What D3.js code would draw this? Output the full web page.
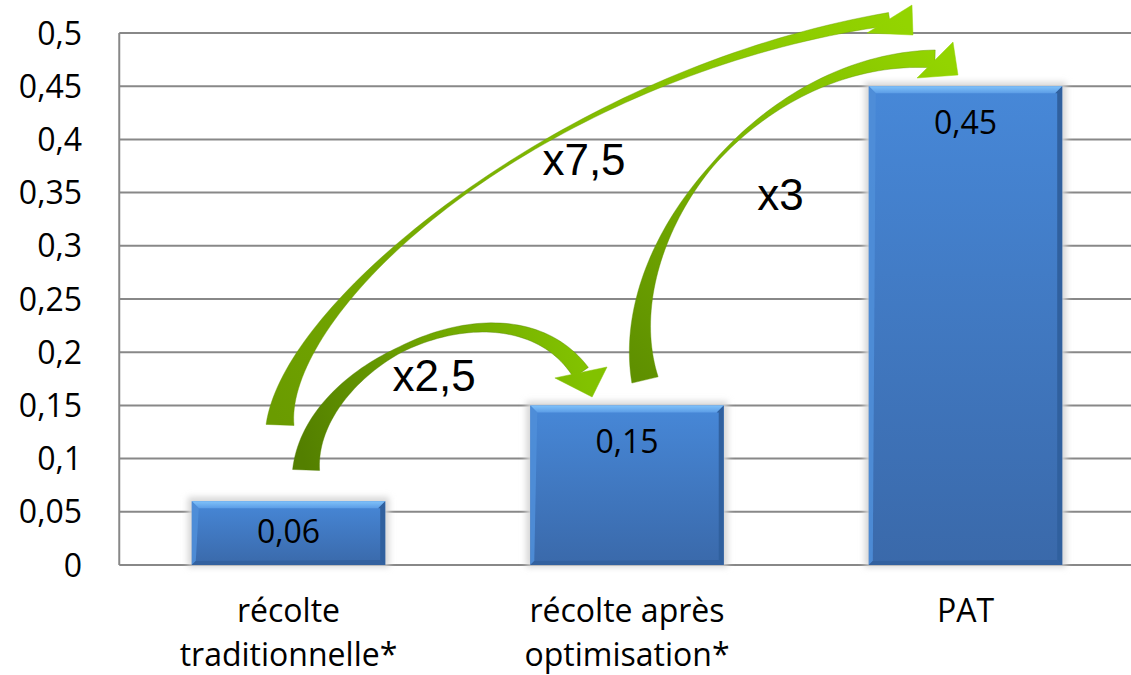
<!DOCTYPE html>
<html>
<head>
<meta charset="utf-8">
<script src="https://cdn.jsdelivr.net/npm/d3@7"></script>
<style>
  html, body { margin: 0; padding: 0; background: #ffffff; overflow: hidden; }
  svg { display: block; }
</style>
</head>
<body>
<svg id="chart" width="1131" height="675"></svg>
<script>
// Category labels (one entry per line of the label)
const categories = [
  ["récolte", "traditionnelle*"],
  ["récolte après", "optimisation*"],
  ["PAT"]
];
// Bar values and their printed labels
const values = [0.06, 0.15, 0.45];
const valueLabels = ["0,06", "0,15", "0,45"];

// Y axis ticks
const yTicks = [0, 0.05, 0.1, 0.15, 0.2, 0.25, 0.3, 0.35, 0.4, 0.45, 0.5];
const yTickLabels = ["0", "0,05", "0,1", "0,15", "0,2", "0,25", "0,3", "0,35", "0,4", "0,45", "0,5"];

// Ratio annotations between bars
const ratioLabels = ["x2,5", "x7,5", "x3"];

// Curved arrows, every point given as [category index, value]
// tail / c1 / c2 / end : cubic centreline of the ribbon; head : [barb, tip, barb]
// widths : [tail width, narrowest width, where it is narrowest, width at head, taper exponent]
const ratioArrows = [
  { label: 1, text: [0.873, 0.3665],
    tail: [-0.025, 0.1316], c1: [-0.010, 0.2491], c2: [0.802, 0.4652], end: [1.7755, 0.5132],
    head: [[1.8419, 0.5263], [1.8449, 0.4981], [1.709, 0.5000]],
    widths: [28, 3, 0.55, 13, 2.0], colors: ["#6a9b00", "#7fb800", "#93d400"] },
  { label: 0, text: [0.430, 0.1635],
    tail: [0.052, 0.0893], c1: [0.0635, 0.1927], c2: [0.654, 0.2773], end: [0.864, 0.1809],
    head: [[0.941, 0.1861], [0.897, 0.1579], [0.787, 0.1758]],
    widths: [27, 6, 0.45, 18, 1.2], colors: ["#537f00", "#6ea400", "#82c200"] },
  { label: 2, text: [1.4535, 0.3336],
    tail: [1.0532, 0.1739], c1: [0.9557, 0.3055], c2: [1.3929, 0.4793], end: [1.9099, 0.4756],
    head: [[1.9631, 0.4915], [1.9778, 0.4605], [1.8567, 0.4577]],
    widths: [27, 3, 0.5, 18, 1.3], colors: ["#5f9000", "#7ab400", "#93d400"] }
];

const plot = { left: 119.25, right: 1134.75, top: 33, bottom: 565 };

const svg = d3.select("#chart");
const defs = svg.append("defs");

const x = d3.scaleBand()
  .domain(d3.range(categories.length))
  .range([plot.left, plot.right])
  .paddingInner(0).paddingOuter(0);
const y = d3.scaleLinear().domain([0, 0.5]).range([plot.bottom, plot.top]);
// Continuous position along the category axis (band centres at integer indexes)
const cx = d3.scaleLinear()
  .domain([0, categories.length - 1])
  .range([x(0) + x.bandwidth() / 2, x(categories.length - 1) + x.bandwidth() / 2]);
const barW = x.bandwidth() / 1.75;

const FONT = "'Open Sans', 'Noto Sans', sans-serif";
const GRID = "#888888";

// Gridlines
svg.append("g").selectAll("line")
  .data(yTicks.filter(d => d > 0))
  .join("line")
  .attr("x1", plot.left).attr("x2", plot.right)
  .attr("y1", d => y(d)).attr("y2", d => y(d))
  .attr("stroke", GRID).attr("stroke-width", 2);

// Axis lines
svg.append("line")
  .attr("x1", plot.left).attr("x2", plot.left)
  .attr("y1", y(0.5)).attr("y2", y(0))
  .attr("stroke", GRID).attr("stroke-width", 2);
svg.append("line")
  .attr("x1", plot.left).attr("x2", plot.right)
  .attr("y1", y(0)).attr("y2", y(0))
  .attr("stroke", GRID).attr("stroke-width", 2);

// Y tick labels
svg.append("g").selectAll("text")
  .data(yTicks)
  .join("text")
  .attr("x", 82)
  .attr("y", d => y(d) + 11.5)
  .attr("text-anchor", "end")
  .attr("font-family", FONT).attr("font-size", 32)
  .attr("fill", "#000")
  .text((d, i) => yTickLabels[i]);

// Bar gradients and shadow filter
const bodyGrad = defs.append("linearGradient").attr("id", "barBody")
  .attr("x1", 0).attr("y1", 0).attr("x2", 0).attr("y2", 1);
bodyGrad.append("stop").attr("offset", "0%").attr("stop-color", "#4788d8");
bodyGrad.append("stop").attr("offset", "100%").attr("stop-color", "#3a69aa");

const topGrad = defs.append("linearGradient").attr("id", "barTop")
  .attr("x1", 0).attr("y1", 0).attr("x2", 0).attr("y2", 1);
topGrad.append("stop").attr("offset", "0%").attr("stop-color", "#80c2fa");
topGrad.append("stop").attr("offset", "100%").attr("stop-color", "#5c9de6");

const shadow = defs.append("filter").attr("id", "barShadow")
  .attr("x", "-20%").attr("y", "-20%").attr("width", "140%").attr("height", "140%");
shadow.append("feGaussianBlur").attr("stdDeviation", 3);

const bars = svg.append("g").selectAll("g")
  .data(values)
  .join("g");

const B = 7; // bevel size
bars.each(function (v, i) {
  const g = d3.select(this);
  const x0 = x(i) + (x.bandwidth() - barW) / 2;
  const x1 = x0 + barW;
  const y0 = y(v), y1 = y(0);
  g.append("rect")
    .attr("x", x0 - 4).attr("y", y0 - 4)
    .attr("width", barW + 8).attr("height", y1 - y0 + 6)
    .attr("fill", "#d6d6d6").attr("filter", "url(#barShadow)");
  g.append("rect")
    .attr("x", x0).attr("y", y0)
    .attr("width", barW).attr("height", y1 - y0)
    .attr("fill", "url(#barBody)");
  // bevels
  g.append("path")
    .attr("d", `M${x0},${y0}L${x1},${y0}L${x1 - B},${y0 + B}L${x0 + B},${y0 + B}Z`)
    .attr("fill", "url(#barTop)");
  g.append("path")
    .attr("d", `M${x1},${y0}L${x1},${y1}L${x1 - 5},${y1 - 5}L${x1 - 5},${y0 + B}L${x1 - B},${y0 + B}Z`)
    .attr("fill", "#30609e");
  g.append("path")
    .attr("d", `M${x0},${y0}L${x0 + B},${y0 + B}L${x0 + 4},${y1 - 4}L${x0},${y1}Z`)
    .attr("fill", "#4f8ed8").attr("opacity", 0.9);
  g.append("path")
    .attr("d", `M${x0},${y1}L${x0 + 4},${y1 - 4}L${x1 - 5},${y1 - 5}L${x1},${y1}Z`)
    .attr("fill", "#33619f");
  // value label inside the top of the bar
  const h = y1 - y0;
  const c = y0 + Math.min(36, h / 2 - 2);
  g.append("text")
    .attr("x", (x0 + x1) / 2).attr("y", c + 11.5)
    .attr("text-anchor", "middle")
    .attr("font-family", FONT).attr("font-size", 32)
    .attr("fill", "#000")
    .text(valueLabels[i]);
});

// Category labels
const catG = svg.append("g").selectAll("text")
  .data(categories)
  .join("text")
  .attr("text-anchor", "middle")
  .attr("font-family", FONT).attr("font-size", 32)
  .attr("fill", "#000");
catG.selectAll("tspan")
  .data((d, i) => d.map(s => ({ s, i })))
  .join("tspan")
  .attr("x", d => x(d.i) + x.bandwidth() / 2)
  .attr("y", (d, j) => 622 + j * 44)
  .text(d => d.s);

// Curved ratio arrows
function pt(p) { return [cx(p[0]), y(p[1])]; }
function bez(a, b, c, d, t) {
  const u = 1 - t;
  return [
    u * u * u * a[0] + 3 * u * u * t * b[0] + 3 * u * t * t * c[0] + t * t * t * d[0],
    u * u * u * a[1] + 3 * u * u * t * b[1] + 3 * u * t * t * c[1] + t * t * t * d[1]
  ];
}
function bezD(a, b, c, d, t) {
  const u = 1 - t;
  return [
    3 * u * u * (b[0] - a[0]) + 6 * u * t * (c[0] - b[0]) + 3 * t * t * (d[0] - c[0]),
    3 * u * u * (b[1] - a[1]) + 6 * u * t * (c[1] - b[1]) + 3 * t * t * (d[1] - c[1])
  ];
}
function widthAt(wd, t) {
  const [w0, wMin, tm, w1, e] = wd;
  if (t <= tm) {
    const s = 1 - t / tm;
    return wMin + (w0 - wMin) * Math.pow(s, e);
  }
  const s = (t - tm) / (1 - tm);
  return wMin + (w1 - wMin) * Math.pow(s, 1.6);
}

const arrowsG = svg.append("g");
ratioArrows.forEach((a, k) => {
  const P0 = pt(a.tail), P1 = pt(a.c1), P2 = pt(a.c2), P3 = pt(a.end);
  const N = 80;
  const left = [], right = [];
  for (let n = 0; n <= N; n++) {
    const t = n / N;
    const p = bez(P0, P1, P2, P3, t);
    const d = bezD(P0, P1, P2, P3, t);
    const len = Math.hypot(d[0], d[1]);
    const nx = -d[1] / len, ny = d[0] / len;
    const w = widthAt(a.widths, t) / 2;
    left.push([p[0] + nx * w, p[1] + ny * w]);
    right.push([p[0] - nx * w, p[1] - ny * w]);
  }
  const ribbon = left.concat(right.reverse());
  const head = a.head.map(pt);
  const tip = head[1];

  const gid = "arrowGrad" + k;
  const grad = defs.append("linearGradient").attr("id", gid)
    .attr("gradientUnits", "userSpaceOnUse")
    .attr("x1", P0[0]).attr("y1", P0[1]).attr("x2", tip[0]).attr("y2", tip[1]);
  grad.append("stop").attr("offset", "0%").attr("stop-color", a.colors[0]);
  grad.append("stop").attr("offset", "50%").attr("stop-color", a.colors[1]);
  grad.append("stop").attr("offset", "100%").attr("stop-color", a.colors[2]);

  const g = arrowsG.append("g");
  g.append("path")
    .attr("d", d3.line()(ribbon) + "Z")
    .attr("fill", `url(#${gid})`)
    .attr("stroke", a.colors[0]).attr("stroke-opacity", 0.5).attr("stroke-width", 0.8);
  g.append("path")
    .attr("d", d3.line()(head) + "Z")
    .attr("fill", `url(#${gid})`)
    .attr("stroke", a.colors[2]).attr("stroke-opacity", 0.6).attr("stroke-width", 0.8)
    .attr("stroke-linejoin", "miter");

  const tp = pt(a.text);
  g.append("text")
    .attr("x", tp[0]).attr("y", tp[1])
    .attr("text-anchor", "middle")
    .attr("font-family", "'Liberation Sans', Arial, sans-serif")
    .attr("font-size", 44)
    .attr("fill", "#000")
    .text(ratioLabels[a.label]);
});
</script>
</body>
</html>
